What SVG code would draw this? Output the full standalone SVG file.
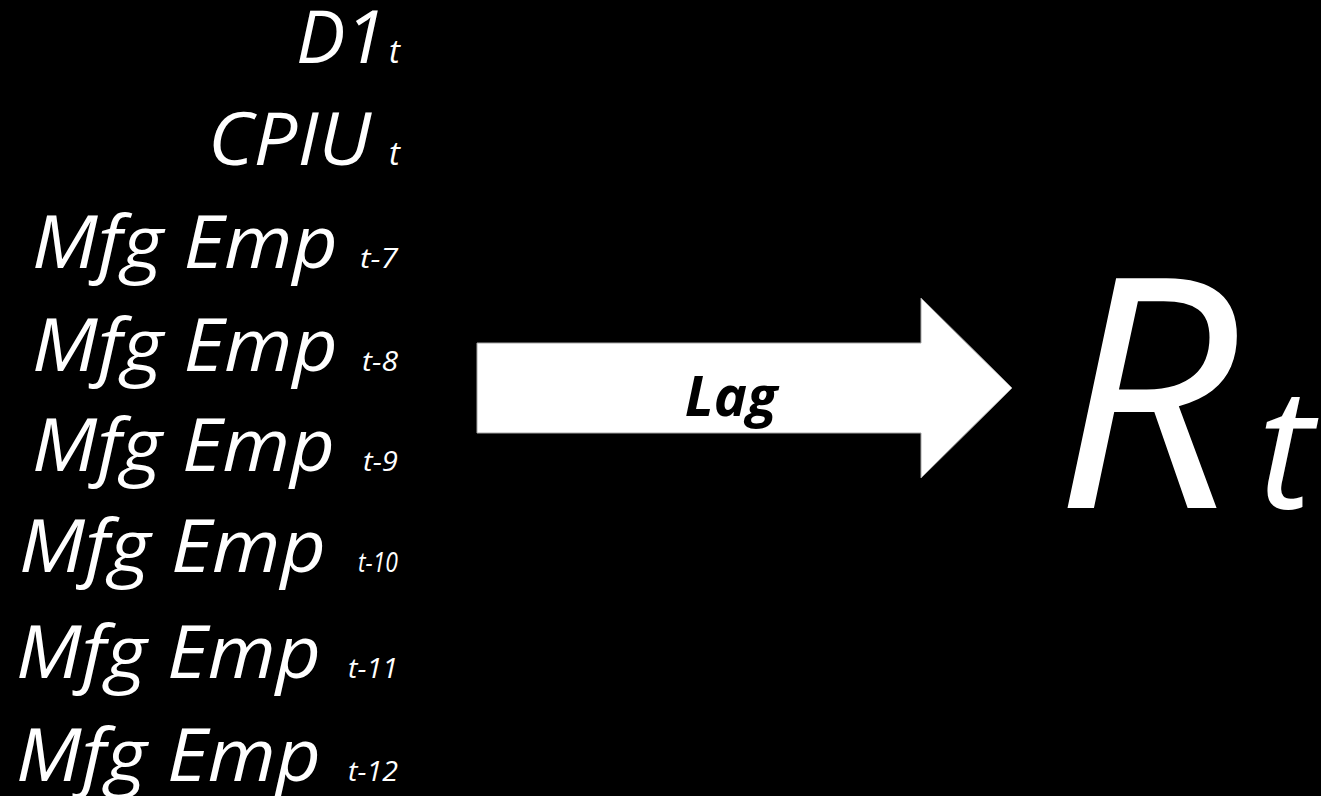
<svg xmlns="http://www.w3.org/2000/svg" width="1321" height="796" viewBox="0 0 1321 796">
  <style>
    .main { font-family: "Open Sans", "Liberation Sans", sans-serif; font-style: italic; fill: #ffffff; font-size: 73px; }
    .sub { font-family: "Open Sans", "Liberation Sans", sans-serif; font-style: italic; fill: #ffffff; font-size: 28px; }
    .subt { font-family: "Open Sans", "Liberation Sans", sans-serif; font-style: italic; fill: #ffffff; font-size: 33px; }
    .big { font-family: "Open Sans", "Liberation Sans", sans-serif; font-style: italic; fill: #ffffff; }
    .lag { font-family: "Open Sans", "Liberation Sans", sans-serif; font-style: italic; font-weight: bold; fill: #000000; font-size: 56px; }
    .arrow { fill: #ffffff; stroke: #a6a6a6; stroke-width: 1; }
  </style>
  <rect x="0" y="0" width="1321" height="796" fill="#000000"/>

  <g id="input-d1">
    <text class="main" x="296" y="63" textLength="90" lengthAdjust="spacingAndGlyphs">D1</text>
    <text class="subt" x="400" y="63" text-anchor="end">t</text>
  </g>
  <g id="input-cpiu">
    <text class="main" x="208" y="165" textLength="163" lengthAdjust="spacingAndGlyphs">CPIU</text>
    <text class="subt" x="400" y="165" text-anchor="end">t</text>
  </g>
  <g id="input-mfg-t7">
    <text class="main" x="32" y="268" textLength="306" lengthAdjust="spacingAndGlyphs">Mfg Emp</text>
    <text class="sub" x="360" y="268" textLength="38" lengthAdjust="spacingAndGlyphs">t-7</text>
  </g>
  <g id="input-mfg-t8">
    <text class="main" x="32" y="371" textLength="306" lengthAdjust="spacingAndGlyphs">Mfg Emp</text>
    <text class="sub" x="362" y="371" textLength="36" lengthAdjust="spacingAndGlyphs">t-8</text>
  </g>
  <g id="input-mfg-t9">
    <text class="main" x="32" y="471" textLength="303" lengthAdjust="spacingAndGlyphs">Mfg Emp</text>
    <text class="sub" x="363" y="471" textLength="35" lengthAdjust="spacingAndGlyphs">t-9</text>
  </g>
  <g id="input-mfg-t10">
    <text class="main" x="19" y="572" textLength="307" lengthAdjust="spacingAndGlyphs">Mfg Emp</text>
    <text class="sub" x="358" y="572" textLength="40" lengthAdjust="spacingAndGlyphs">t-10</text>
  </g>
  <g id="input-mfg-t11">
    <text class="main" x="16" y="678" textLength="305" lengthAdjust="spacingAndGlyphs">Mfg Emp</text>
    <text class="sub" x="348" y="678" textLength="50" lengthAdjust="spacingAndGlyphs">t-11</text>
  </g>
  <g id="input-mfg-t12">
    <text class="main" x="16" y="781" textLength="305" lengthAdjust="spacingAndGlyphs">Mfg Emp</text>
    <text class="sub" x="348" y="781" textLength="50" lengthAdjust="spacingAndGlyphs">t-12</text>
  </g>

  <g id="connectors">
    <g id="lag-arrow">
      <path class="arrow" d="M477,343 H921 V298 L1012,388 L921,478 V433 H477 Z"/>
      <text class="lag" x="731" y="416" text-anchor="middle">Lag</text>
    </g>
  </g>

  <g id="output-rt">
    <text class="big" x="1054" y="508" font-size="322">R</text>
    <text class="big" x="1258" y="508" font-size="168">t</text>
  </g>
</svg>
